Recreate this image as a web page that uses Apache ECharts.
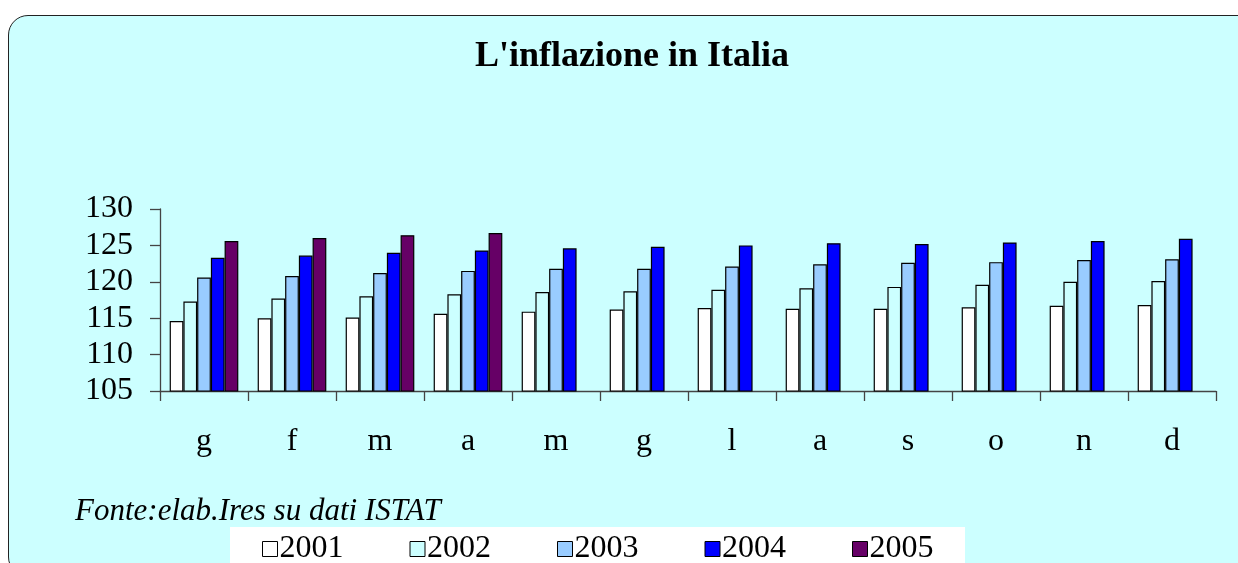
<!DOCTYPE html>
<html>
<head>
<meta charset="utf-8">
<script src="https://cdn.jsdelivr.net/npm/echarts@6/dist/echarts.min.js"></script>
<style>
    html, body { margin: 0; padding: 0; background: #ffffff; overflow: hidden; }
    #wrap { position: relative; width: 1238px; height: 563px; overflow: hidden; }
    #frame {
        position: absolute; left: 8px; top: 15px; width: 1260px; height: 560px;
        border: 1.5px solid #222; border-radius: 20px; background: #CCFFFF;
    }
    #chart { position: absolute; left: 0; top: 0; width: 1238px; height: 563px; }
</style>
</head>
<body>
<div id="wrap">
    <div id="frame"></div>
    <div id="chart"></div>
</div>
<script>
// mesi (iniziali)
const months = ["g", "f", "m", "a", "m", "g", "l", "a", "s", "o", "n", "d"];
const years = ["2001", "2002", "2003", "2004", "2005"];
// indice prezzi per anno
const v2001 = [114.6, 115.0, 115.1, 115.6, 115.9, 116.2, 116.4, 116.3, 116.3, 116.5, 116.7, 116.8];
const v2002 = [117.3, 117.7, 118.0, 118.3, 118.6, 118.7, 118.9, 119.1, 119.3, 119.6, 120.0, 120.1];
const v2003 = [120.6, 120.8, 121.2, 121.5, 121.8, 121.8, 122.1, 122.4, 122.6, 122.7, 123.0, 123.1];
const v2004 = [123.3, 123.6, 124.0, 124.3, 124.6, 124.8, 125.0, 125.3, 125.2, 125.4, 125.6, 125.9];
const v2005 = [125.6, 126.0, 126.4, 126.7, null, null, null, null, null, null, null, null];
const yTicks = { min: 105, max: 130, step: 5 };

const colors = ["#FFFFFF", "#CCFFFF", "#99CCFF", "#0000FF", "#660066"];
const values = [v2001, v2002, v2003, v2004, v2005];
const serif = "'Liberation Serif', 'Times New Roman', serif";

const chart = echarts.init(document.getElementById("chart"), null, { renderer: "canvas" });
chart.setOption({
    backgroundColor: "transparent",
    animation: false,
    title: {
        text: "L'inflazione in Italia",
        left: 475,
        top: 39,
        padding: 0,
        textStyle: { fontFamily: serif, fontWeight: "bold", fontSize: 36, color: "#000" }
    },
    graphic: [
        {
            type: "rect",
            shape: { x: 230, y: 527, width: 735, height: 40 },
            style: { fill: "#FFFFFF" }
        },
        {
            type: "text",
            left: 75,
            top: 496,
            style: { text: "Fonte:elab.Ires su dati ISTAT", font: "italic 31px " + serif, fill: "#000" }
        }
    ],
    legend: {
        data: years,
        left: 262,
        top: 533,
        padding: 0,
        itemWidth: 15,
        itemHeight: 15,
        itemGap: 66,
        icon: "rect",
        itemStyle: { borderColor: "#000", borderWidth: 1 },
        textStyle: { fontFamily: serif, fontSize: 32, color: "#000", padding: [0, 0, 0, -3] }
    },
    grid: { left: 160, top: 209, width: 1056, height: 182 },
    xAxis: {
        type: "category",
        data: months,
        axisLine: { lineStyle: { color: "#444", width: 1.3 } },
        axisTick: { show: true, length: 10, lineStyle: { color: "#444", width: 1.3 } },
        axisLabel: { fontFamily: serif, fontSize: 32, color: "#000", margin: 35 }
    },
    yAxis: {
        type: "value",
        min: yTicks.min,
        max: yTicks.max,
        interval: yTicks.step,
        splitLine: { show: false },
        axisLine: { show: true, lineStyle: { color: "#444", width: 1.3 } },
        axisTick: { show: true, length: 10, lineStyle: { color: "#444", width: 1.3 } },
        axisLabel: { fontFamily: serif, fontSize: 32, color: "#000", margin: 27 }
    },
    series: years.map((y, i) => ({
        name: y,
        type: "bar",
        data: values[i],
        barGap: 0,
        barCategoryGap: "22%",
        itemStyle: { color: colors[i], borderColor: "#000", borderWidth: 1.2 }
    }))
});
</script>
</body>
</html>
